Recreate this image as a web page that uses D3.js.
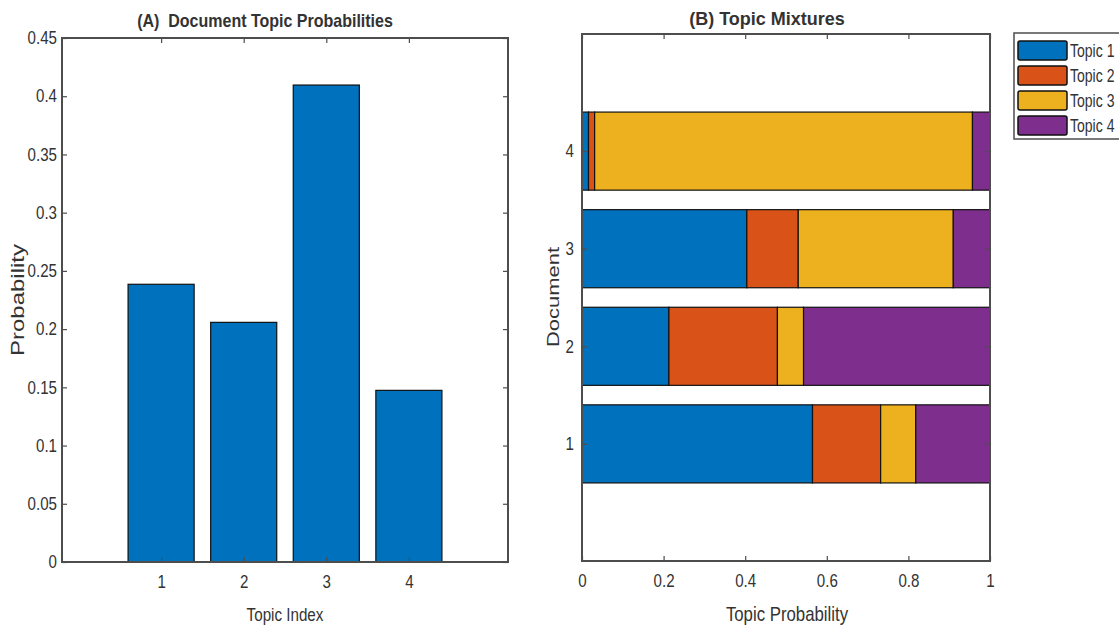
<!DOCTYPE html>
<html>
<head>
<meta charset="utf-8">
<script src="https://cdn.jsdelivr.net/npm/d3@7/dist/d3.min.js"></script>
<style>
  html, body { margin: 0; padding: 0; background: #fff; }
  svg { display: block; }
  text { fill: #333; }
</style>
</head>
<body>
<svg id="chart" width="1119" height="629"></svg>
<script>
// ---- Data ----
const topicIndex = [1, 2, 3, 4];
const topicProbs = [0.2385, 0.2058, 0.4096, 0.1474];
const yTicksA = [0, 0.05, 0.1, 0.15, 0.2, 0.25, 0.3, 0.35, 0.4, 0.45];

const documents = [1, 2, 3, 4];
const topicNames = ["Topic 1", "Topic 2", "Topic 3", "Topic 4"];
const topic1 = [0.565, 0.213, 0.404, 0.016];
const topic2 = [0.167, 0.266, 0.126, 0.015];
const topic3 = [0.086, 0.064, 0.380, 0.926];
const topic4 = [0.182, 0.457, 0.090, 0.043];
const xTicksB = [0, 0.2, 0.4, 0.6, 0.8, 1];
const colors = ["#0072BD", "#D95319", "#EDB120", "#7E2F8E"];

const svg = d3.select("#chart");
const axisColor = "#4d4d4d";
const font = "'Liberation Sans', Arial, sans-serif";
const fmt = d => String(+d.toFixed(2));
const SX = 0.84; // horizontal squeeze of tick labels

function styleAxis(g, orient, padding) {
  g.select(".domain").remove();
  g.selectAll(".tick line").attr("stroke", axisColor).attr("stroke-width", 1.2);
  const t = g.selectAll(".tick text").attr("font-family", font).attr("font-size", 18).attr("fill", "#3a3a3a")
    .attr("transform", `scale(${SX},1)`);
  if (orient === "left") t.attr("x", -padding / SX);
}

function label(g, x, y, txt, opts) {
  return g.append("text")
    .attr("transform", `translate(${x},${y}) ${opts.rotate ? "rotate(-90)" : ""} scale(${opts.sx || 1},${opts.sy || 1})`)
    .attr("text-anchor", opts.anchor || "middle")
    .attr("font-family", font).attr("font-size", opts.fs)
    .attr("font-weight", opts.bold ? "bold" : null)
    .attr("fill", opts.fill || "#333")
    .text(txt);
}

// ---- Panel A ----
const xA = d3.scaleLinear().domain([-0.2, 5.2]).range([62, 508]);
const yA = d3.scaleLinear().domain([0, 0.45]).range([562, 38]);
const gA = svg.append("g");

gA.selectAll("rect.bar").data(topicIndex).join("rect")
  .attr("class", "bar")
  .attr("x", (d) => xA(d - 0.4))
  .attr("width", xA(0.8) - xA(0))
  .attr("y", (d, i) => yA(topicProbs[i]))
  .attr("height", (d, i) => yA(0) - yA(topicProbs[i]))
  .attr("fill", colors[0]).attr("stroke", "#111").attr("stroke-width", 1.2);

gA.append("g").attr("transform", `translate(0,${yA(0)})`)
  .call(d3.axisBottom(xA).tickValues(topicIndex).tickSize(-5).tickPadding(13).tickFormat(d3.format("d")))
  .call(g => styleAxis(g, "bottom"));
gA.append("g").attr("transform", `translate(0,${yA(0.45)})`)
  .call(d3.axisTop(xA).tickValues(topicIndex).tickSize(-5).tickFormat(""))
  .call(g => styleAxis(g, "top"));
gA.append("g").attr("transform", `translate(${xA(-0.2)},0)`)
  .call(d3.axisLeft(yA).tickValues(yTicksA).tickSize(-5).tickPadding(5).tickFormat(fmt))
  .call(g => styleAxis(g, "left", 5));
gA.append("g").attr("transform", `translate(${xA(5.2)},0)`)
  .call(d3.axisRight(yA).tickValues(yTicksA).tickSize(-5).tickFormat(""))
  .call(g => styleAxis(g, "right"));
gA.append("rect").attr("x", xA(-0.2)).attr("y", yA(0.45))
  .attr("width", xA(5.2) - xA(-0.2)).attr("height", yA(0) - yA(0.45))
  .attr("fill", "none").attr("stroke", axisColor).attr("stroke-width", 2);

label(gA, 265, 27, "(A)\u00a0\u00a0Document Topic Probabilities", {fs: 18, bold: true, sx: 0.89, fill: "#111"});
label(gA, 285, 621, "Topic Index", {fs: 19, sx: 0.8});
label(gA, 24, 300, "Probability", {fs: 24, rotate: true, sy: 0.78});

// ---- Panel B ----
const xB = d3.scaleLinear().domain([0, 1]).range([582, 990]);
const yB = d3.scaleLinear().domain([-0.2, 5.2]).range([561, 34]);
const gB = svg.append("g");

const tableB = documents.map((doc, i) => ({doc, t1: topic1[i], t2: topic2[i], t3: topic3[i], t4: topic4[i]}));
const stack = d3.stack().keys(["t1", "t2", "t3", "t4"])(tableB);

gB.selectAll("g.series").data(stack).join("g")
  .attr("class", "series").attr("fill", (d, i) => colors[i])
  .selectAll("rect").data(d => d).join("rect")
  .attr("x", d => xB(d[0]))
  .attr("width", d => xB(d[1]) - xB(d[0]))
  .attr("y", d => yB(d.data.doc + 0.4))
  .attr("height", d => yB(0) - yB(0.8))
  .attr("stroke", "#111").attr("stroke-width", 1.2);

gB.append("g").attr("transform", `translate(0,${yB(-0.2)})`)
  .call(d3.axisBottom(xB).tickValues(xTicksB).tickSize(-5).tickPadding(13).tickFormat(fmt))
  .call(g => styleAxis(g, "bottom"));
gB.append("g").attr("transform", `translate(0,${yB(5.2)})`)
  .call(d3.axisTop(xB).tickValues(xTicksB).tickSize(-5).tickFormat(""))
  .call(g => styleAxis(g, "top"));
gB.append("g").attr("transform", `translate(${xB(0)},0)`)
  .call(d3.axisLeft(yB).tickValues(documents).tickSize(-5).tickPadding(8).tickFormat(d3.format("d")))
  .call(g => styleAxis(g, "left", 8));
gB.append("g").attr("transform", `translate(${xB(1)},0)`)
  .call(d3.axisRight(yB).tickValues(documents).tickSize(-5).tickFormat(""))
  .call(g => styleAxis(g, "right"));
gB.append("rect").attr("x", xB(0)).attr("y", yB(5.2))
  .attr("width", xB(1) - xB(0)).attr("height", yB(-0.2) - yB(5.2))
  .attr("fill", "none").attr("stroke", axisColor).attr("stroke-width", 2);

label(gB, 767, 25, "(B)\u00a0Topic Mixtures", {fs: 18, bold: true, fill: "#111"});
label(gB, 787, 621, "Topic Probability", {fs: 20, sx: 0.84});
label(gB, 559, 297, "Document", {fs: 22, rotate: true, sy: 0.78});

// ---- Legend ----
const gL = svg.append("g");
gL.append("rect").attr("x", 1014).attr("y", 33).attr("width", 120).attr("height", 106)
  .attr("fill", "#fff").attr("stroke", axisColor).attr("stroke-width", 1.5);
const items = gL.selectAll("g.item").data(topicNames).join("g")
  .attr("class", "item").attr("transform", (d, i) => `translate(1018,${41 + i * 25})`);
items.append("rect").attr("width", 49).attr("height", 19).attr("rx", 2)
  .attr("fill", (d, i) => colors[i]).attr("stroke", "#111").attr("stroke-width", 1.5);
items.append("text").attr("transform", "translate(52,16) scale(0.78,1)")
  .attr("font-family", font).attr("font-size", 18).attr("fill", "#111").text(d => d);
</script>
</body>
</html>
